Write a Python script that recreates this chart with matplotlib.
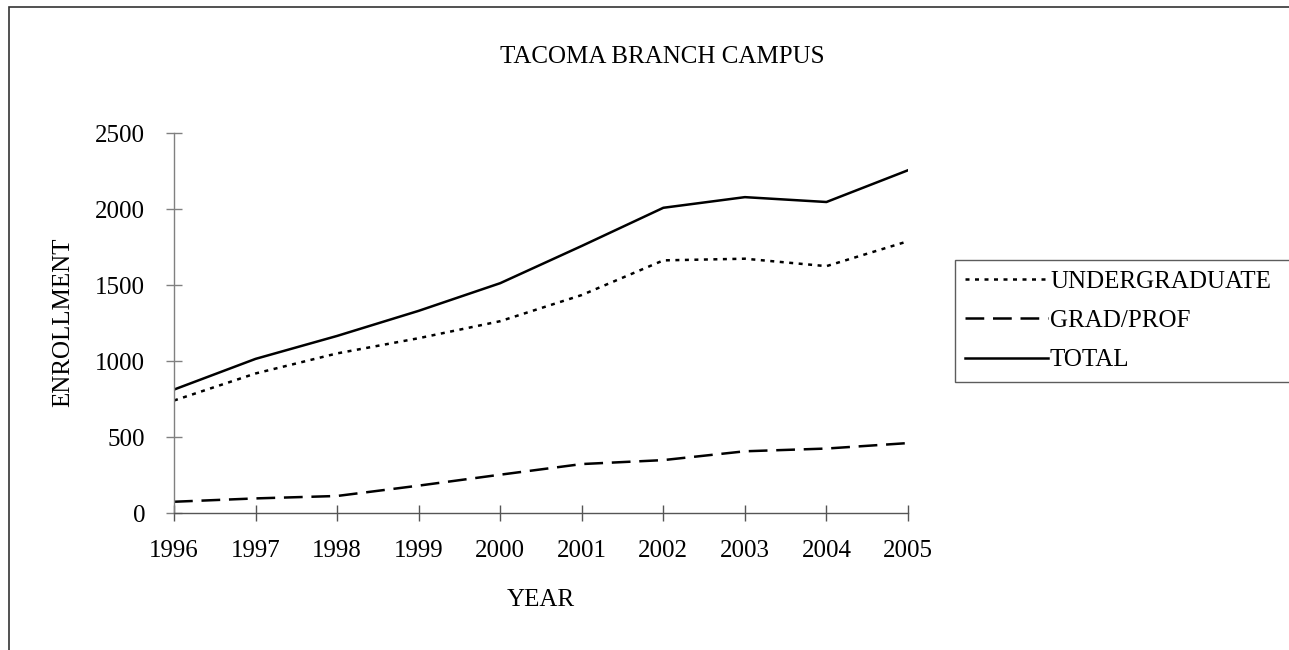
import matplotlib
matplotlib.use("Agg")
import matplotlib.pyplot as plt
from matplotlib.patches import Rectangle

plt.rcParams['font.family'] = ['Liberation Serif', 'DejaVu Serif']

# enrollment data
years = [1996, 1997, 1998, 1999, 2000, 2001, 2002, 2003, 2004, 2005]
undergrad = [740, 918, 1050, 1150, 1262, 1434, 1662, 1673, 1624, 1788]
grad_prof = [74, 96, 112, 180, 252, 322, 348, 406, 424, 460]
total = [812, 1014, 1165, 1330, 1512, 1757, 2008, 2078, 2046, 2255]

W, H = 1289, 650
fig = plt.figure(figsize=(W / 100, H / 100), dpi=100)
ax = fig.add_axes([174 / W, 1 - 513 / H, (908 - 174) / W, (513 - 133) / H])

# outer chart border (runs off the right and bottom edges)
fig.patches.append(Rectangle((9 / W, -0.1), 1.2, 1 - 7 / H + 0.1,
                             transform=fig.transFigure, fill=False,
                             edgecolor='#333333', lw=1.2))

lw = 1.8
ax.plot(years, undergrad, color='black', lw=lw, dashes=(1.6, 2.2), label='UNDERGRADUATE')
ax.plot(years, grad_prof, color='black', lw=lw, dashes=(7.5, 3.5), label='GRAD/PROF')
ax.plot(years, total, color='black', lw=lw, label='TOTAL')

ax.set_xlim(1996, 2005)
ax.set_ylim(0, 2500)
ax.set_xticks(years)
ax.set_yticks(range(0, 2501, 500))
ax.spines[['top', 'right']].set_visible(False)
ax.spines['left'].set_color('#808080')
ax.spines['bottom'].set_color('#555555')
for s in ['left', 'bottom']:
    ax.spines[s].set_linewidth(1)
ax.tick_params(direction='inout', length=11.5, width=1, color='#808080',
               labelsize=18, labelcolor='black')
ax.tick_params(axis='y', pad=15)
ax.tick_params(axis='x', pad=14, color='#555555')
ax.patch.set_alpha(0)

fig.text(662 / W, 1 - 57 / H, 'TACOMA BRANCH CAMPUS', ha='center', va='center', fontsize=18)
fig.text(541 / W, 1 - 600 / H, 'YEAR', ha='center', va='center', fontsize=18)
fig.text(63 / W, 1 - 322 / H, 'ENROLLMENT', ha='center', va='center', rotation=90, fontsize=18)

leg = fig.legend(loc='upper left', bbox_to_anchor=(955 / W, 1 - 378 / H, 400 / W, 118 / H),
                 mode='expand', frameon=True, fancybox=False, fontsize=18,
                 handlelength=3.3, handletextpad=0.1, borderpad=0.4,
                 labelspacing=0.68, borderaxespad=0)
leg.get_frame().set_edgecolor('#333333')
leg.get_frame().set_linewidth(1)

fig.savefig('out.png', dpi=100, facecolor='white')
